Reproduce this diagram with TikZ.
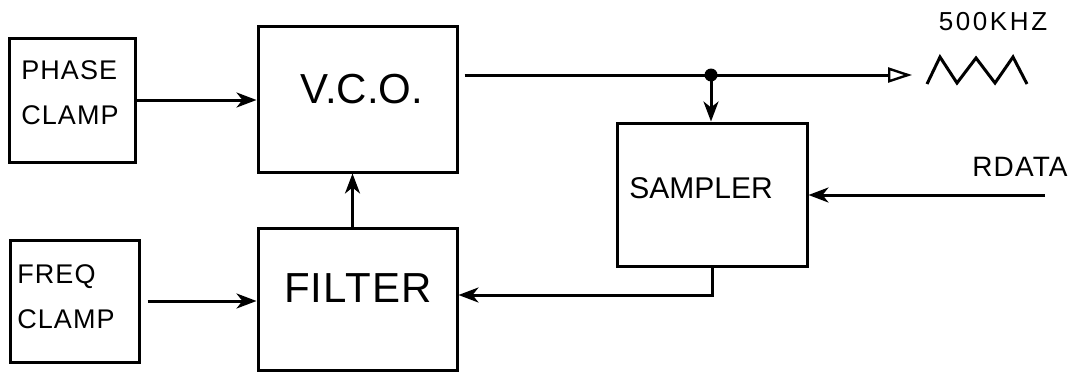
\documentclass[tikz,border=0pt]{standalone}
\usepackage{fontspec}
\setmainfont{Liberation Sans}
\usetikzlibrary{arrows.meta}
\tikzset{
  blk/.style={draw, line width=3pt, inner sep=0pt},
  lbl/.style={inner sep=0pt, align=left},
  wire/.style={line width=3pt},
  arr/.style={wire, -{Stealth[length=20pt,width=15pt,inset=6pt]}},
  oarr/.style={wire, -{Triangle[open,length=24pt,width=15pt,line width=2.4pt]}},
}
\begin{document}
\begin{tikzpicture}[x=1pt,y=-1pt]
\useasboundingbox (0,0) rectangle (1082,372);
% boxes
\node[blk, minimum width=126pt, minimum height=124pt] (phase) at (72,100) {};
\node[blk, minimum width=129pt, minimum height=122pt] (freq) at (74.5,301) {};
\node[blk, minimum width=199pt, minimum height=146pt] (vco) at (357.5,99) {};
\node[blk, minimum width=199pt, minimum height=142pt] (filter) at (357.5,299) {};
\node[blk, minimum width=190pt, minimum height=143pt] (sampler) at (712,194.5) {};
% texts
\node[lbl, font=\fontsize{27}{45}\selectfont\addfontfeature{LetterSpace=4}] (tphase) at (70,93) {PHASE\\CLAMP};
\node[lbl, font=\fontsize{27}{45}\selectfont\addfontfeature{LetterSpace=4}] (tfreq) at (66,297) {FREQ\\CLAMP};
\node[lbl, font=\fontsize{42}{46}\selectfont] (tvco) at (362,89) {V.C.O.};
\node[lbl, font=\fontsize{42}{46}\selectfont\addfontfeature{LetterSpace=3}] (tfilter) at (358,288) {FILTER};
\node[lbl, font=\fontsize{30}{34}\selectfont] (tsampler) at (701,188) {SAMPLER};
\node[lbl, font=\fontsize{28}{30}\selectfont\addfontfeature{LetterSpace=4}] (trdata) at (1020,167) {RDATA};
\node[lbl, font=\fontsize{26}{28}\selectfont\addfontfeature{LetterSpace=10}] (tfreqout) at (993,22) {500KHZ};
% connectors
\coordinate (j) at (711,75);
\coordinate (out) at (912,75);
\coordinate (rd) at (1045,195);
\draw[arr] (phase.east) -- (phase.east -| vco.west);
\draw[arr, shorten <=7pt] (freq.east) -- (freq.east -| filter.west);
\draw[arr] ([xshift=-5pt]filter.north) -- ([xshift=-5pt]vco.south);
\draw[wire, shorten <=6pt] (vco.east |- j) -- (j);
\draw[oarr] (j) -- (out);
\draw[arr] (j) -- (j |- sampler.north);
\fill (j) circle (6.5pt);
\draw[arr] (rd) -- (rd -| sampler.east);
\draw[arr] (sampler.south) |- ([yshift=4pt]filter.east);
% waveform
\draw[line width=3pt, line join=miter] (927,84) -- (940,57) -- (957,83) -- (976,58) -- (995,83) -- (1013,57) -- (1027,84);
\end{tikzpicture}
\end{document}
